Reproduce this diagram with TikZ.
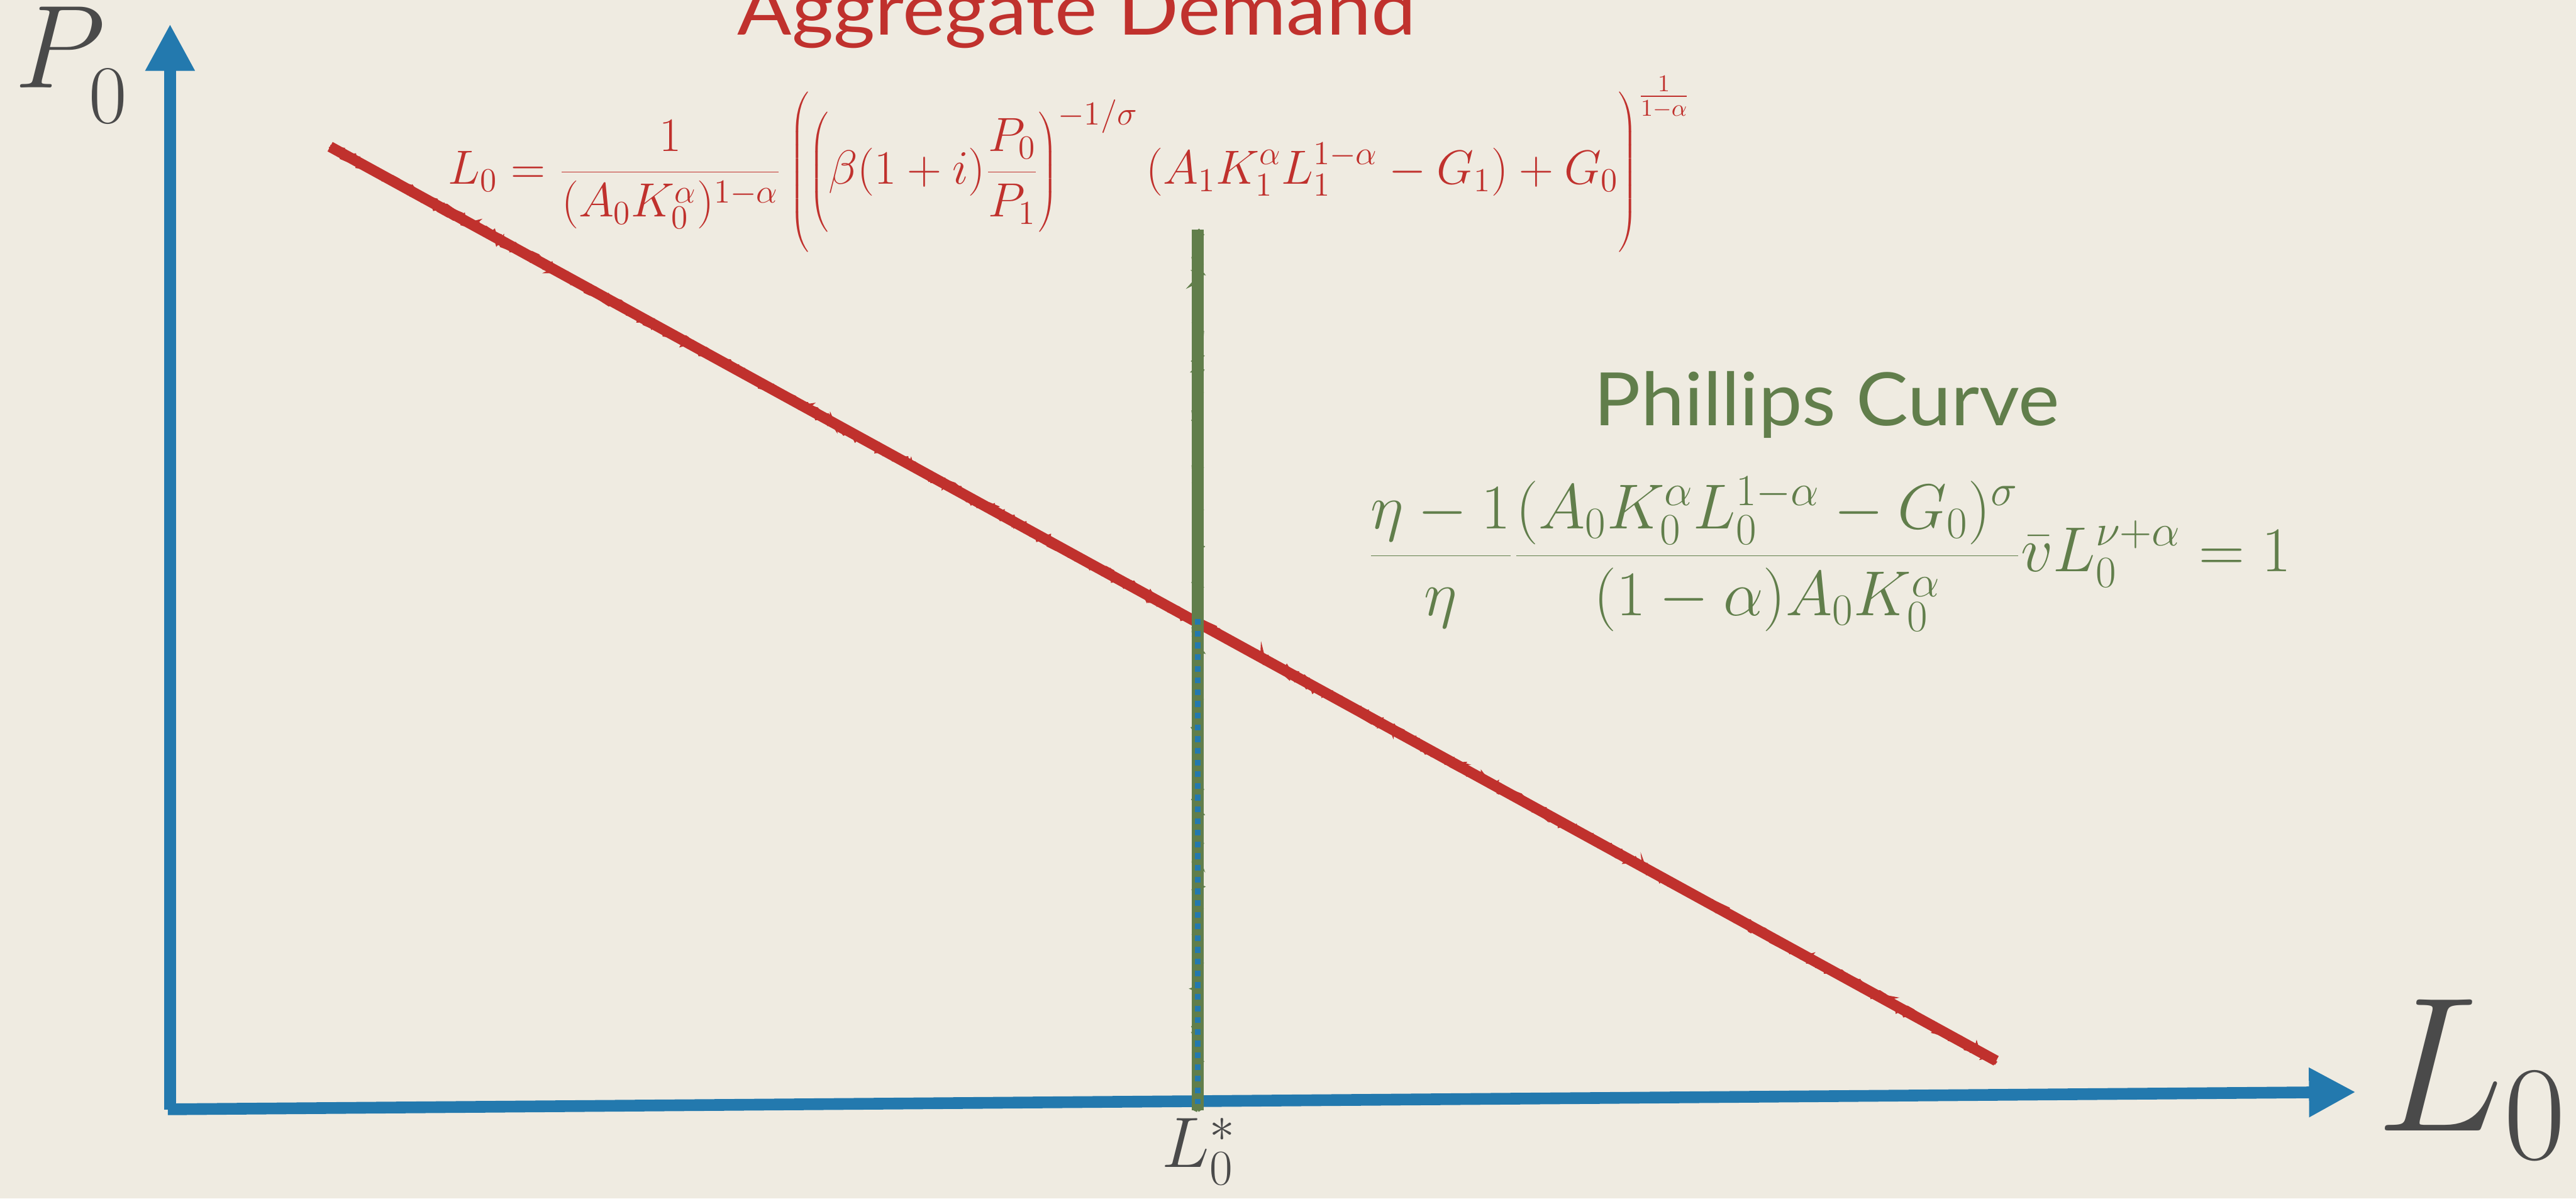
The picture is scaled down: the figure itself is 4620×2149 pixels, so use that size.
\documentclass[tikz,border=0pt]{standalone}
\usepackage{fix-cm}
\usepackage{fontspec}
\newfontfamily\titlefont{Lato}
\usetikzlibrary{arrows.meta,decorations.pathmorphing}
\definecolor{bg}{HTML}{EFEBE1}
\definecolor{adred}{HTML}{C0312D}
\definecolor{pcgreen}{HTML}{617E4B}
\definecolor{axisblue}{HTML}{2379AE}
\definecolor{labelgrey}{HTML}{4A4A4A}
\newcommand{\strutof}[2]{\vrule height #1 depth #2 width 0pt}
\tikzset{
  axisline/.style={draw=axisblue, line width=5.25pt, -{Triangle[length=21pt,width=20.75pt]}},
  roughA/.style={decorate, decoration={random steps, segment length=2.5pt, amplitude=2pt}},
  titletext/.style={anchor=base west, font=\titlefont\fontsize{33}{40}\selectfont},
  labeltext/.style={anchor=base west, text=labelgrey},
}
\begin{document}
\begin{tikzpicture}[x=0.25pt,y=-0.25pt, every node/.style={inner sep=0pt, outer sep=0pt}]
\fill[bg] (0,0) rectangle (4620,2149);
\useasboundingbox (0,0) rectangle (4620,2149);
\pgfmathsetseed{7}
% coordinates
\coordinate (ybase) at (305,1990);
\coordinate (ytip) at (305,43);
\coordinate (xbase) at (301,1989);
\coordinate (xtip) at (4225,1958);
\coordinate (ad1) at (592,263);
\coordinate (ad2) at (3580,1902);
\coordinate (pctop) at (2148,412);
\coordinate (pcbot) at (2148,1991);
\coordinate (eq) at (2148,1110);
\coordinate (eqfoot) at (2148,1980);
% axes
\draw[axisline] (ybase) -- (ytip);
\draw[axisline] (xbase) -- (xtip);
% aggregate demand line
\draw[adred, line width=4.8pt] (ad1) -- (ad2);
\draw[adred, line width=1.6pt, roughA] (ad1) -- (ad2);
\draw[adred, line width=1.6pt, roughA] (ad1) -- (ad2);
\draw[adred, line width=1.2pt, roughA] (ad1) -- (ad2);
% phillips curve line
\draw[pcgreen, line width=5.4pt] (pctop) -- (pcbot);
\draw[pcgreen, line width=1.6pt, roughA] (pctop) -- (pcbot);
\draw[pcgreen, line width=1.6pt, roughA] (pctop) -- (pcbot);
% equilibrium dotted line
\draw[axisblue, line width=2.7pt, dash pattern=on 2.6pt off 2.65pt] (eq) -- (eqfoot);
% labels
\node[labeltext] (ylabel) at (26,157) {\fontsize{53}{60}\selectfont $P_{\raisebox{-8pt}{$\scriptstyle 0$}}$};
\node[labeltext] (xlabel) at (4262,2027) {\fontsize{86}{90}\selectfont $L_0$};
\node[labeltext] (lstar) at (2084,2093) {\fontsize{32}{36}\selectfont $L_0^{*}$};
% titles
\node[titletext, text=adred, xscale=1.09] (adtitle) at (1323,63) {Aggregate Demand};
\node[titletext, text=pcgreen, xscale=1.06] (pctitle) at (2859,763) {Phillips Curve};
% equations
\node[anchor=base west, text=adred] (adeq) at (804,330) {\fontsize{21.5}{26}\selectfont \delimiterfactor=1000 \delimitershortfall=0pt $\displaystyle L_0=\frac{1}{(A_0K_0^{\alpha})^{1-\alpha}}\left(\strutof{39pt}{28.5pt}\left(\strutof{32pt}{21.5pt}\beta(1+i)\frac{P_0}{P_1}\right)^{-1/\sigma}(A_1K_1^{\alpha}L_1^{1-\alpha}-G_1)+G_0\right)^{\frac{1}{1-\alpha}}$};
\node[anchor=base west, text=pcgreen] (pceq) at (2454,1025) {\fontsize{28.5}{34}\selectfont $\displaystyle \frac{\eta-1}{\eta}\frac{(A_0K_0^{\alpha}L_0^{1-\alpha}-G_0)^{\sigma}}{(1-\alpha)A_0K_0^{\alpha}}\bar{v}L_0^{\nu+\alpha}=1$};
\end{tikzpicture}
\end{document}
